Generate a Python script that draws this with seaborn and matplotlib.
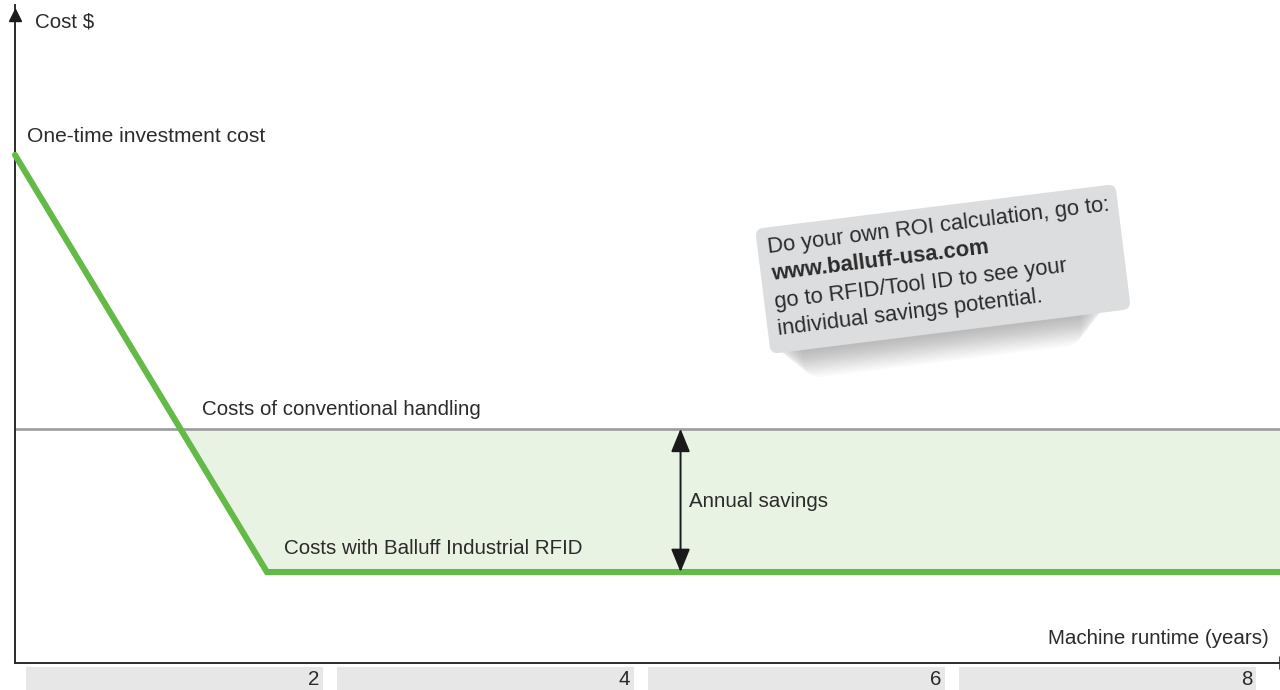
import numpy as np
import pandas as pd
import seaborn as sns
import matplotlib
matplotlib.use("Agg")
import matplotlib.pyplot as plt
from matplotlib.patches import Rectangle, FancyBboxPatch
from matplotlib.transforms import Affine2D, IdentityTransform, blended_transform_factory

# ---- data ----
rfid_years = [0.0, 1.62, 8.14]
rfid_cost = [100.0, 17.9, 17.9]
conv_years = [0.0, 8.14]
conv_cost = [46.1, 46.1]
tick_years = [2, 4, 6, 8]
tick_labels = ["2", "4", "6", "8"]
savings_year = 4.28

sns.set_theme(style="white")
plt.rcParams['font.family'] = ['Liberation Sans', 'DejaVu Sans']

W, H = 1280, 690
fig = plt.figure(figsize=(W / 100, H / 100), dpi=100)
ax = fig.add_axes([15 / W, (H - 663) / H, (W - 15) / W, (663 - 5) / H])
ax.set_xlim(0, 8.135)
ax.set_ylim(0, 129.5)

GREEN = "#63ba47"
GRAY = "#9b9c9e"
FILL = "#e8f3e3"
TXT = "#2b2b2b"
FS = 14.8

# fill between conventional and RFID lines
xx = np.linspace(0, 8.14, 2000)
g = np.interp(xx, rfid_years, rfid_cost)
c = np.interp(xx, conv_years, conv_cost)
ax.fill_between(xx, g, c, where=g <= c, interpolate=True, color=FILL, lw=0, zorder=1)

df_conv = pd.DataFrame({"year": conv_years, "cost": conv_cost})
df_rfid = pd.DataFrame({"year": rfid_years, "cost": rfid_cost})
sns.lineplot(data=df_conv, x="year", y="cost", ax=ax, color=GRAY, lw=1.9, zorder=2, clip_on=False)
sns.lineplot(data=df_rfid, x="year", y="cost", ax=ax, color=GREEN, lw=4.4, zorder=3,
             solid_joinstyle="miter", clip_on=False)

# annual savings arrow
ax.annotate("", xy=(savings_year, rfid_cost[-1]), xytext=(savings_year, conv_cost[0]),
            arrowprops=dict(arrowstyle="<|-|>,head_length=1.1,head_width=0.45", color="#1a1a1a",
                            lw=1.4, mutation_scale=13, shrinkA=0, shrinkB=0), zorder=4)
ax.text(savings_year + 0.055, (rfid_cost[-1] + conv_cost[0]) / 2 - 0.3, "Annual savings",
        fontsize=FS, color=TXT, va="center", ha="left")

# line labels
ax.text(0.08, 103.6, "One-time investment cost", fontsize=15.1, color=TXT, va="center", ha="left")
ax.text(1.2, 49.9, "Costs of conventional handling", fontsize=FS, color=TXT, va="center", ha="left")
ax.text(1.73, 22.5, "Costs with Balluff Industrial RFID", fontsize=FS, color=TXT, va="center", ha="left")

# axes styling
for s in ["top", "right"]:
    ax.spines[s].set_visible(False)
for s in ["left", "bottom"]:
    ax.spines[s].set_color("#2a2a2a")
    ax.spines[s].set_linewidth(1.4)
ax.set_yticks([])
ax.set_xticks([])
ax.set_xlabel("")
ax.set_ylabel("")

# y-axis arrow head and label
ax.plot([0], [127.6], marker="^", ms=9, color="#1a1a1a", clip_on=False, zorder=5)
ax.text(0.13, 126.1, "Cost $", fontsize=FS, color=TXT, va="center", ha="left")
# x-axis end bar
ax.plot([8.135, 8.135], [-1.2, 1.2], color="#2a2a2a", lw=1.2, clip_on=False)
ax.text(8.06, 4.8, "Machine runtime (years)", fontsize=FS, color=TXT, va="center", ha="right")

# tick boxes
tr = blended_transform_factory(ax.transData, ax.transAxes)
for yr, lab in zip(tick_years, tick_labels):
    ax.add_patch(Rectangle((yr - 2 + 0.07, -0.045), 1.91, 0.0385, transform=tr,
                           facecolor="#e6e7e6", edgecolor="none", clip_on=False))
    ax.text(yr - 0.045, -0.0255, lab, transform=tr, fontsize=FS, color=TXT,
            ha="right", va="center", clip_on=False)

# rotated note box (pixel coordinates)
cx, cy = 943, H - 269
ang = 7.1
bw, bh = 363, 126
rot = Affine2D().rotate_deg(ang).translate(cx, cy)
# soft drop shadow: many faint layers
n = 18
for k in range(n):
    off = 2 + k * 1.6
    shrink = 4 + k * 1.6
    sh = FancyBboxPatch((-bw / 2 + shrink, -bh / 2 - off), bw - 2 * shrink - 20, bh - 20,
                        boxstyle="round,pad=0,rounding_size=18", transform=rot,
                        facecolor="#333333", edgecolor="none", alpha=0.018)
    fig.patches.append(sh)
box = FancyBboxPatch((-bw / 2, -bh / 2), bw, bh, boxstyle="round,pad=0,rounding_size=8",
                     transform=rot, facecolor="#dcdddf", edgecolor="none")
fig.patches.append(box)

lines = [("Do your own ROI calculation, go to:", "normal"),
         ("www.balluff-usa.com", "bold"),
         ("go to RFID/Tool ID to see your", "normal"),
         ("individual savings potential.", "normal")]
for i, (t, w) in enumerate(lines):
    lx = -bw / 2 + 10
    ly = bh / 2 - 20 - 27.5 * i
    px, py = rot.transform((lx, ly))
    fig.text(px, py, t, transform=IdentityTransform(), fontsize=15.8, color=TXT,
             rotation=ang, rotation_mode="anchor", ha="left", va="center", fontweight=w)

fig.savefig("out.png", dpi=100)
